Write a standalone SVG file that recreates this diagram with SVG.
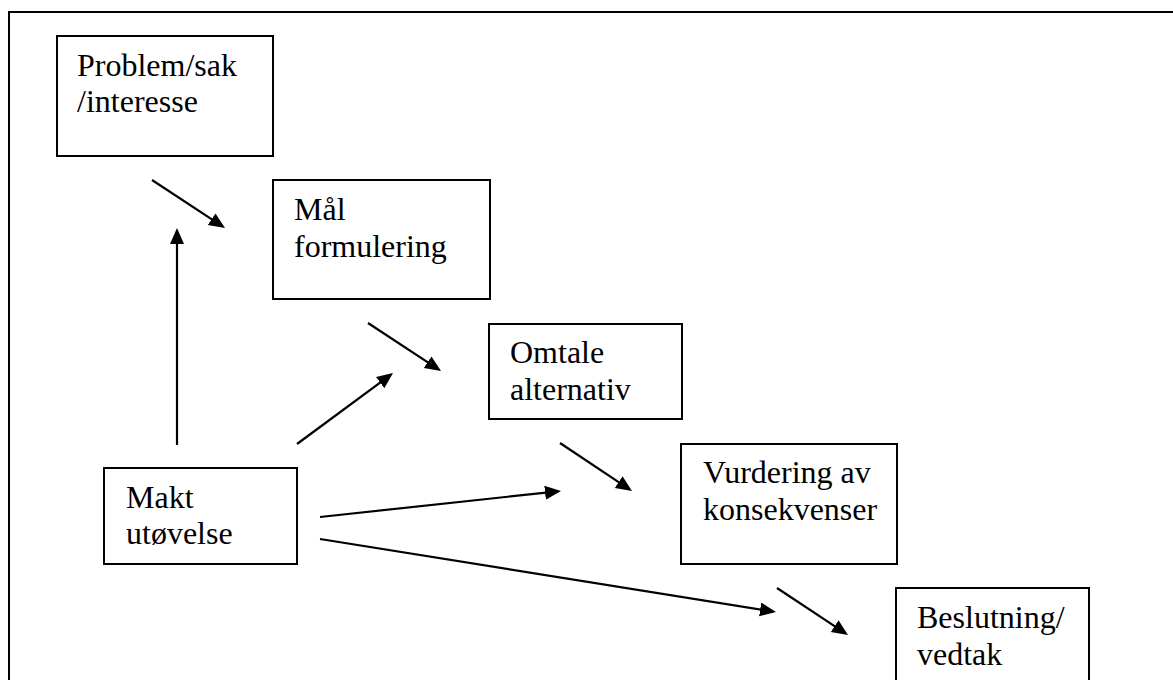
<svg xmlns="http://www.w3.org/2000/svg" width="1173" height="680" viewBox="0 0 1173 680">
<style>
.box{fill:#fff;stroke:#000;stroke-width:2}
.lbl{font-family:'Liberation Serif','Times New Roman','DejaVu Serif',serif;font-size:32px;fill:#000}
.conn line{stroke:#000;stroke-width:2.2;marker-end:url(#ah)}
</style>
<defs>
<marker id="ah" markerUnits="userSpaceOnUse" markerWidth="18" markerHeight="16" refX="13" refY="7" orient="auto">
<path d="M0,0 L16,7 L0,14 z" fill="#000"/>
</marker>
</defs>
<rect width="1173" height="680" fill="#fff"/>
<rect x="9" y="12" width="1180" height="700" fill="none" stroke="#000" stroke-width="2"/>
<g id="problem"><rect class="box" x="57" y="36" width="216" height="120"/><text class="lbl" font-family="Liberation Serif" x="77" y="76">Problem/sak</text><text class="lbl" font-family="Liberation Serif" x="77" y="112">/interesse</text></g>
<g id="maal"><rect class="box" x="273" y="180" width="217" height="119"/><text class="lbl" font-family="Liberation Serif" x="294" y="220">Mål</text><text class="lbl" font-family="Liberation Serif" x="294" y="257">formulering</text></g>
<g id="omtale"><rect class="box" x="489" y="324" width="193" height="95"/><text class="lbl" font-family="Liberation Serif" x="510" y="363">Omtale</text><text class="lbl" font-family="Liberation Serif" x="510" y="400">alternativ</text></g>
<g id="makt"><rect class="box" x="104" y="468" width="193" height="96"/><text class="lbl" font-family="Liberation Serif" x="126" y="508">Makt</text><text class="lbl" font-family="Liberation Serif" x="126" y="544">utøvelse</text></g>
<g id="vurdering"><rect class="box" x="681" y="444" width="216" height="120"/><text class="lbl" font-family="Liberation Serif" x="703" y="483">Vurdering av</text><text class="lbl" font-family="Liberation Serif" x="703" y="520">konsekvenser</text></g>
<g id="beslutning"><rect class="box" x="896" y="588" width="193" height="120"/><text class="lbl" font-family="Liberation Serif" x="917" y="628">Beslutning/</text><text class="lbl" font-family="Liberation Serif" x="917" y="665">vedtak</text></g>
<g id="connectors" class="conn">
<line x1="152" y1="180" x2="222.5" y2="226.4"/>
<line x1="177" y1="445" x2="177" y2="231"/>
<line x1="368" y1="323" x2="438.5" y2="369.4"/>
<line x1="297" y1="444" x2="390.6" y2="374.8"/>
<line x1="560" y1="443" x2="629.5" y2="489.3"/>
<line x1="320" y1="517" x2="558" y2="491.3"/>
<line x1="320" y1="539" x2="773" y2="611.5"/>
<line x1="777" y1="588" x2="845.5" y2="633.3"/>
</g>
</svg>
